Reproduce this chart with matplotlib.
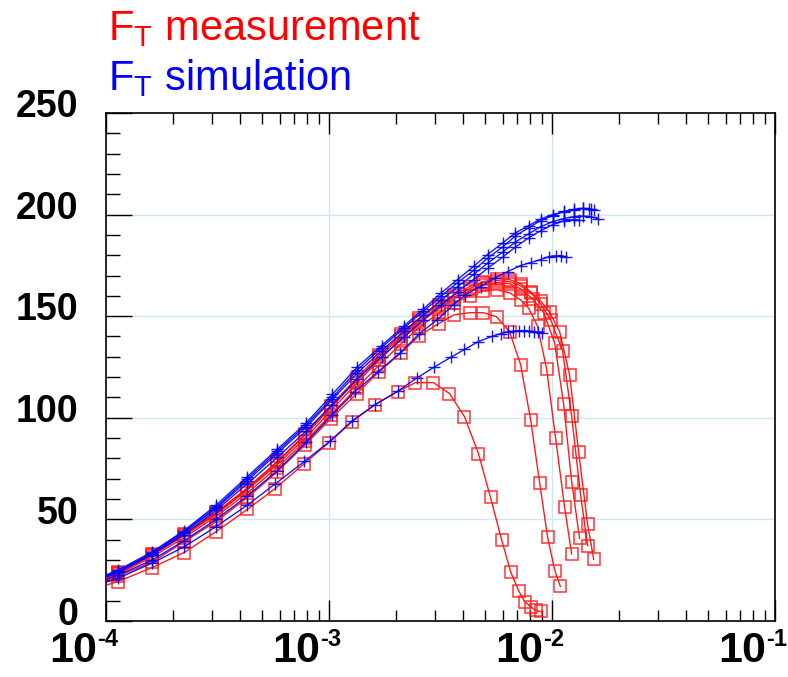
import matplotlib
matplotlib.use("Agg")
import matplotlib.pyplot as plt
from matplotlib.ticker import LogLocator, MultipleLocator, NullFormatter, FixedLocator
from matplotlib.transforms import ScaledTranslation, blended_transform_factory

plt.rcParams['font.family'] = ['Liberation Sans', 'DejaVu Sans']
plt.rcParams['mathtext.fontset'] = 'custom'
plt.rcParams['mathtext.rm'] = 'Liberation Sans'
plt.rcParams['mathtext.bf'] = 'Liberation Sans:bold'

# measurement curves (red squares)
r1_x = [8.0e-5, 1.13e-4, 1.61e-4, 2.24e-4, 3.12e-4, 4.30e-4, 5.74e-4, 7.75e-4, 1.00e-3, 1.27e-3, 1.61e-3, 2.03e-3,
        2.44e-3, 2.94e-3, 3.47e-3, 4.05e-3, 4.68e-3, 5.30e-3, 5.94e-3, 6.52e-3, 7.08e-3, 7.53e-3, 8.02e-3, 8.44e-3,
        8.89e-3]
r1_y = [14.4, 19.4, 26.3, 33.7, 44.0, 54.9, 65.2, 77.5, 87.8, 98.1, 106.5, 112.9,
        117.3, 117.3, 111.9, 100.6, 82.4, 60.8, 40.1, 24.3, 15.0, 9.6, 7.1, 5.2, 4.7]

r2_x = [8.0e-5, 1.13e-4, 1.61e-4, 2.24e-4, 3.12e-4, 4.30e-4, 5.86e-4, 7.83e-4, 1.02e-3, 1.33e-3, 1.68e-3, 2.11e-3,
        2.54e-3, 3.10e-3, 3.65e-3, 4.27e-3, 4.93e-3, 5.64e-3, 6.45e-3, 7.23e-3, 8.02e-3, 8.80e-3, 9.56e-3, 1.03e-2,
        1.09e-2]
r2_y = [16.3, 22.0, 29.0, 39.0, 49.0, 60.7, 73.5, 86.8, 99.6, 111.9, 122.7, 132.1,
        140.4, 146.3, 150.7, 151.7, 151.7, 149.7, 142.4, 126.2, 99.1, 68.1, 41.1, 24.8, 17.0]

rc_x = [8.0e-5, 1.13e-4, 1.61e-4, 2.24e-4, 3.12e-4, 4.30e-4, 5.86e-4, 7.83e-4, 1.02e-3, 1.33e-3, 1.68e-3,
        2.11e-3, 2.54e-3, 3.10e-3, 3.65e-3, 4.27e-3, 4.93e-3, 5.64e-3, 6.45e-3, 7.23e-3]

r3_x = rc_x + [7.85e-3, 8.62e-3, 9.46e-3, 1.038e-2, 1.139e-2, 1.225e-2]
r3_y = [17.0, 23.0, 31.5, 41.0, 51.5, 63.0, 75.5, 88.5, 101.5, 114.5, 126.0, 136.5, 144.5, 151.5, 156.5, 160.0,
        162.5, 163.0, 161.5, 158.0, 154.0, 145.0, 124.0, 90.0, 56.0, 33.0]

r4_x = rc_x + [8.18e-3, 9.17e-3, 1.027e-2, 1.127e-2, 1.225e-2, 1.330e-2]
r4_y = [17.4, 23.5, 32.5, 42.0, 52.5, 64.5, 77.0, 90.0, 103.5, 117.0, 128.5, 139.0, 147.0, 153.5, 158.5, 162.5,
        165.5, 166.5, 166.0, 163.5, 158.5, 151.7, 137.0, 107.0, 68.6, 40.6]

r5_x = rc_x + [8.02e-3, 8.89e-3, 9.86e-3, 1.116e-2, 1.225e-2, 1.344e-2, 1.445e-2]
r5_y = [17.8, 24.0, 33.0, 43.0, 53.5, 65.5, 78.5, 92.0, 106.0, 119.5, 131.0, 141.0, 149.0, 155.5, 160.5, 164.5,
        167.0, 168.5, 168.0, 166.0, 162.0, 156.0, 148.3, 132.8, 100.8, 61.9, 37.1]

r6_x = rc_x + [8.02e-3, 8.89e-3, 9.75e-3, 1.082e-2, 1.200e-2, 1.317e-2, 1.445e-2, 1.538e-2]
r6_y = [17.4, 23.5, 32.5, 42.5, 53.0, 65.0, 78.0, 91.5, 105.0, 118.5, 130.0, 140.0, 148.0, 154.5, 159.5, 163.5,
        166.5, 167.5, 167.0, 165.0, 161.5, 157.5, 152.0, 142.4, 121.0, 83.0, 47.5, 30.3]

# simulation curves (blue crosses)
b1_x = [8.0e-5, 1.13e-4, 1.61e-4, 2.24e-4, 3.12e-4, 4.30e-4, 5.74e-4, 7.75e-4, 1.01e-3, 1.27e-3, 1.61e-3, 2.03e-3,
        2.47e-3, 2.97e-3, 3.51e-3, 4.05e-3, 4.68e-3, 5.36e-3, 5.88e-3, 6.32e-3, 6.72e-3, 7.08e-3, 7.46e-3, 7.85e-3,
        8.27e-3, 8.62e-3, 8.98e-3]
b1_y = [15.6, 21.0, 28.5, 36.5, 46.5, 57.0, 67.5, 78.5, 88.5, 98.5, 106.5, 113.0, 119.5,
        125.0, 129.7, 133.6, 137.5, 140.0, 141.4, 142.4, 142.6, 142.9, 142.9, 142.9, 142.4, 142.2, 141.9]

b2_x = [8.0e-5, 1.13e-4, 1.61e-4, 2.24e-4, 3.12e-4, 4.30e-4, 5.86e-4, 7.91e-4, 1.035e-3, 1.31e-3, 1.66e-3, 2.09e-3,
        2.52e-3, 3.06e-3, 3.62e-3, 4.09e-3, 4.78e-3, 5.58e-3, 6.32e-3, 7.23e-3, 8.02e-3, 8.89e-3, 9.66e-3, 1.038e-2,
        1.093e-2, 1.151e-2]
b2_y = [16.7, 22.5, 30.0, 39.5, 50.0, 61.5, 74.0, 88.0, 101.6, 112.9, 122.7, 132.0, 141.0,
        148.3, 155.7, 160.6, 164.5, 169.0, 171.9, 174.9, 176.4, 177.8, 179.3, 179.8, 179.8, 179.3]

bc_x = [8.0e-5, 1.13e-4, 1.61e-4, 2.24e-4, 3.12e-4, 4.30e-4, 5.86e-4, 7.91e-4, 1.035e-3, 1.34e-3, 1.72e-3, 2.16e-3,
        2.65e-3, 3.19e-3, 3.77e-3, 4.45e-3, 5.14e-3, 6.00e-3, 6.86e-3, 7.85e-3, 8.89e-3, 1.006e-2, 1.127e-2,
        1.251e-2, 1.372e-2, 1.491e-2, 1.603e-2]

b3_x = bc_x[:24] + [1.317e-2]
b3_y = [17.8, 24.0, 32.5, 42.5, 54.5, 67.5, 80.5, 93.5, 106.5, 119.0, 130.0, 139.5, 148.0, 155.5, 162.0, 168.0,
        173.5, 179.0, 184.0, 188.5, 192.0, 195.0, 196.8, 197.5, 197.3]

b4_x = bc_x
b4_y = [17.8, 24.0, 33.0, 43.5, 55.5, 69.0, 82.5, 95.5, 109.0, 122.0, 133.0, 142.5, 150.5, 158.0, 164.5, 170.5,
        176.0, 181.5, 186.5, 190.5, 194.0, 196.5, 198.0, 199.0, 199.3, 199.0, 198.0]

b5_x = bc_x[:26] + [1.538e-2]
b5_y = [18.5, 25.0, 34.0, 44.5, 57.0, 71.0, 84.5, 97.5, 111.5, 125.0, 135.5, 145.0, 153.5, 161.5, 168.0, 174.5,
        180.3, 186.0, 191.0, 194.5, 197.8, 200.0, 201.3, 202.3, 203.0, 202.7, 202.3]

b6_x = bc_x[:25] + [1.460e-2]
b6_y = [18.1, 24.5, 33.5, 44.0, 56.0, 70.0, 83.5, 96.5, 110.0, 123.5, 134.5, 144.0, 152.5, 160.0, 166.5, 172.5,
        178.5, 184.0, 189.5, 193.5, 197.0, 199.5, 201.5, 202.5, 203.0, 202.5]

decades = [1e-4, 1e-3, 1e-2, 1e-1]
exponents = ['-4', '-3', '-2', '-1']

red_curves = [(r1_x, r1_y), (r2_x, r2_y), (r3_x, r3_y), (r4_x, r4_y), (r5_x, r5_y), (r6_x, r6_y)]
blue_curves = [(b1_x, b1_y), (b2_x, b2_y), (b3_x, b3_y), (b4_x, b4_y), (b5_x, b5_y), (b6_x, b6_y)]

fig = plt.figure(figsize=(7.88, 6.77), dpi=100)
ax = fig.add_axes([0.1345, 0.0827, 0.849, 0.7505])

for x, y in red_curves:
    ax.plot(x, y, color='#ff0000', lw=1.0, marker='s', ms=8, mfc='none',
            mec='#ff2020', mew=1.1, alpha=0.9, zorder=3)
for x, y in blue_curves:
    ax.plot(x, y, color='#0000ff', lw=1.0, marker='+', ms=8, mew=1.0, alpha=0.9, zorder=4)

ax.set_xscale('log')
ax.set_xlim(1e-4, 1e-1)
ax.set_ylim(0, 250)

grid_c = '#cfe6f6'
for gx in decades[1:3]:
    ax.axvline(gx, color=grid_c, lw=1.0, zorder=1)
for gy in [50, 100, 150, 200]:
    ax.axhline(gy, color=grid_c, lw=1.0, zorder=1)

ax.xaxis.set_major_locator(FixedLocator(decades))
ax.xaxis.set_minor_locator(LogLocator(base=10, subs=range(2, 10)))
ax.xaxis.set_minor_formatter(NullFormatter())
ax.set_xticklabels(['10'] * len(decades))
ax.yaxis.set_major_locator(MultipleLocator(50))
ax.yaxis.set_minor_locator(MultipleLocator(10))

ax.tick_params(axis='x', which='both', direction='in', top=True, bottom=True)
ax.tick_params(axis='x', which='major', length=15, width=1.0, labelsize=31, pad=7)
ax.tick_params(axis='x', which='minor', length=8, width=1.0)
ax.tick_params(axis='y', which='both', direction='in', left=True, right=False)
ax.tick_params(axis='y', which='major', length=19, width=1.0, labelsize=27, pad=20)
ax.tick_params(axis='y', which='minor', length=10, width=1.0)

for lab in ax.get_yticklabels():
    lab.set_fontweight('bold')
    lab.set_transform(lab.get_transform() + ScaledTranslation(0, 7 / 72, fig.dpi_scale_trans))
for lab in ax.get_xticklabels():
    lab.set_fontweight('bold')
    lab.set_horizontalalignment('right')
    lab.set_transform(lab.get_transform() + ScaledTranslation(-6.5 / 72, 0, fig.dpi_scale_trans))

# exponents of the decade labels
sup_tr = blended_transform_factory(ax.transData, ax.transAxes) + \
    ScaledTranslation(-6.5 / 72, -5 / 72, fig.dpi_scale_trans)
for d, e in zip(decades, exponents):
    ax.text(d, 0, e, transform=sup_tr, fontsize=17, fontweight='bold',
            ha='left', va='top', clip_on=False)

for s in ax.spines.values():
    s.set_linewidth(1.2)

fig.text(0.137, 0.941, r'F$_\mathregular{T}$ measurement', color='#ff0000', fontsize=30, va='baseline')
fig.text(0.137, 0.867, r'F$_\mathregular{T}$ simulation', color='#0000ff', fontsize=30, va='baseline')

fig.savefig('out.png', dpi=100)
